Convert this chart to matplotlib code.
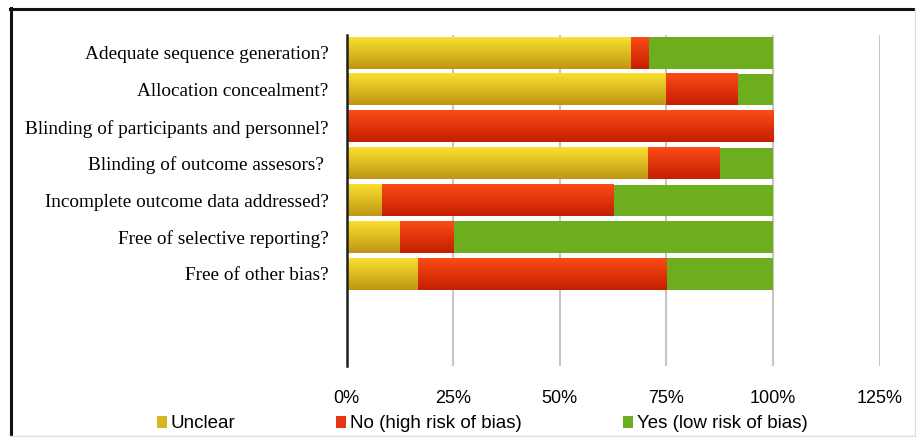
import numpy as np
import matplotlib
matplotlib.use("Agg")
import matplotlib.pyplot as plt
from matplotlib.lines import Line2D
from matplotlib.patches import Patch
from matplotlib.colors import LinearSegmentedColormap

# risk of bias domains (top to bottom)
domains = [
    "Adequate sequence generation?",
    "Allocation concealment?",
    "Blinding of participants and personnel?",
    "Blinding of outcome assesors? ",
    "Incomplete outcome data addressed?",
    "Free of selective reporting?",
    "Free of other bias?",
]
# percentages per judgement
unclear = [66.7, 75.0, 0.0, 70.8, 8.3, 12.5, 16.7]
high_risk = [4.2, 16.7, 100.0, 16.7, 54.2, 12.5, 58.3]
low_risk = [29.2, 8.3, 0.0, 12.5, 37.5, 75.0, 25.0]
legend_labels = ["Unclear", "No (high risk of bias)", "Yes (low risk of bias)"]
xticks = [0, 25, 50, 75, 100, 125]

fig = plt.figure(figsize=(9.16, 4.37), dpi=100)
ax = fig.add_axes([346.5 / 916, 1 - 366 / 437, (879.5 - 346.5) / 916, (366 - 34.5) / 437])

cmap_y = LinearSegmentedColormap.from_list("y", ["#bf9616", "#f9e02e"])
cmap_r = LinearSegmentedColormap.from_list("r", ["#c41f00", "#fc4b17"])
grad = np.linspace(0, 1, 64).reshape(-1, 1)

ypos = np.arange(len(domains))
h = 0.85
left = np.zeros(len(domains))
series = [(unclear, cmap_y, "#d8b620"), (high_risk, cmap_r, "#e63510"), (low_risk, None, "#6dae1e")]
for vals, cmap, col in series:
    vals = np.array(vals)
    bars = ax.barh(ypos, vals, left=left, height=h, color=col, edgecolor="none", zorder=3)
    if cmap is not None:
        for b, v, l, y in zip(bars, vals, left, ypos):
            if v <= 0:
                continue
            ax.imshow(grad, cmap=cmap, aspect="auto", origin="upper",
                      extent=[l, l + v, y - h / 2, y + h / 2], zorder=3.5,
                      interpolation="bilinear")
    left = left + vals

ax.set_xlim(0, 125)
ax.set_ylim(8.5, -0.5)
ax.set_yticks(ypos)
ax.set_yticklabels(domains, fontfamily="Liberation Serif", fontsize=13.9)
ax.set_xticks(xticks)
ax.set_xticklabels([f"{t}%" for t in xticks], fontfamily="Liberation Sans", fontsize=13)
ax.tick_params(axis="x", length=0, pad=17)
ax.tick_params(axis="y", length=0, pad=13)
ax.grid(axis="x", color="#c6c6c6", linewidth=1.5, zorder=0)
for s in ["top", "right", "bottom"]:
    ax.spines[s].set_visible(False)
ax.spines["left"].set_color("#202020")
ax.spines["left"].set_linewidth(1.8)
ax.spines["left"].set_zorder(5)

handles = [Patch(facecolor="#d8b620"), Patch(facecolor="#e63510"), Patch(facecolor="#6dae1e")]
fig.legend(handles, legend_labels, loc="center", bbox_to_anchor=(482 / 916, 1 - 424 / 437),
           ncol=3, frameon=False, handlelength=0.53, handleheight=0.55, handletextpad=0.2,
           columnspacing=5.4, prop={"family": "Liberation Sans", "size": 13.5})

# outer frame
fig.add_artist(Line2D([11 / 916, 11 / 916], [0, 1 - 8 / 437], color="#111111", linewidth=2.2))
fig.add_artist(Line2D([10 / 916, 1], [1 - 8.5 / 437, 1 - 8.5 / 437], color="#111111", linewidth=2.2))
fig.add_artist(Line2D([914.5 / 916, 914.5 / 916], [0, 1 - 8 / 437], color="#dddddd", linewidth=1))
fig.add_artist(Line2D([10 / 916, 1], [1.5 / 437, 1.5 / 437], color="#dddddd", linewidth=1))

fig.savefig("out.png", dpi=100)
